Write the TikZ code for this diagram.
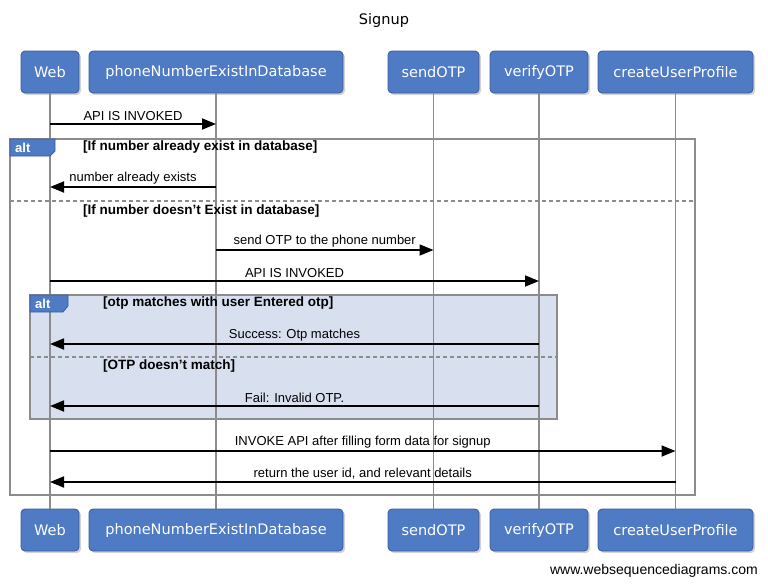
\documentclass[tikz,border=0pt]{standalone}
\usepackage{fontspec}
\setmainfont{Liberation Sans}
\newfontfamily\boxfont{DejaVu Sans}
\usetikzlibrary{arrows.meta,shadows}

\definecolor{partblue}{RGB}{79,122,196}
\definecolor{partedge}{RGB}{58,92,155}
\definecolor{altfill}{RGB}{216,224,240}
\definecolor{linegray}{RGB}{140,140,140}

\newcommand{\sq}{{\char"27}}

\begin{document}
\begin{tikzpicture}[x=1pt, y=-1pt,
    participant/.style={draw=partedge, fill=partblue, rounded corners=4pt, line width=0.8pt, minimum height=42pt, inner xsep=2pt, text=white, font=\boxfont\fontsize{14.5}{17}\selectfont, drop shadow={shadow xshift=2pt, shadow yshift=-2pt, opacity=0.35}},
    lifeline/.style={draw=linegray, line width=1.6pt},
    msg/.style={line width=1.8pt, -{Triangle[length=14pt,width=11pt]}},
    msglabel/.style={font=\fontsize{13}{15}\selectfont, above=1pt, inner sep=1pt},
    frame/.style={draw=linegray, line width=1.6pt},
    divider/.style={draw=linegray, line width=1.2pt, dash pattern=on 4pt off 3pt},
    guard/.style={font=\bfseries\fontsize{13.5}{16}\selectfont, anchor=west, inner sep=0pt},
    alttag/.style={fill=partblue, draw=partedge, line width=0.8pt},
    tagtext/.style={font=\bfseries\fontsize{13}{15}\selectfont, text=white, anchor=west, inner sep=0pt}
]
    \useasboundingbox (0,0) rectangle (768,587);

    % title
    \node[font=\boxfont\fontsize{14.5}{17}\selectfont] (title) at (384,20) {Signup};

    % inner alt fill (behind lifelines)
    \fill[altfill] (30,295) rectangle (557,419);

    % participants, top row
    \node[participant, minimum width=58pt]  (webtop)    at (50,72)    {Web};
    \node[participant, minimum width=254pt] (phonetop)  at (216,72)   {phoneNumberExistInDatabase};
    \node[participant, minimum width=91pt]  (sendtop)   at (433.5,72) {sendOTP};
    \node[participant, minimum width=98pt]  (verifytop) at (539,72)   {verifyOTP};
    \node[participant, minimum width=155pt] (createtop) at (675.5,72) {createUserProfile};

    % participants, bottom row
    \node[participant, minimum width=58pt]  (webbot)    at (50,530)    {Web};
    \node[participant, minimum width=254pt] (phonebot)  at (216,530)   {phoneNumberExistInDatabase};
    \node[participant, minimum width=91pt]  (sendbot)   at (433.5,530) {sendOTP};
    \node[participant, minimum width=98pt]  (verifybot) at (539,530)   {verifyOTP};
    \node[participant, minimum width=155pt] (createbot) at (675.5,530) {createUserProfile};

    % lifelines
    \foreach \p in {web,phone,send,verify,create}
        \draw[lifeline] (\p top.south) -- (\p bot.north);

    % outer alt frame
    \draw[frame] (10,139) rectangle (695,495);
    \draw[alttag] (10,139) -- (55,139) -- (55,151) -- (50,156) -- (10,156) -- cycle;
    \node[tagtext] (outertag) at (15,147.5) {alt};
    \node[guard] (guardone) at (83,147.5) {[If number already exist in database]};
    \draw[divider] (10,201) -- (695,201);
    \node[guard] (guardtwo) at (83,211.5) {[If number doesn\sq t Exist in database]};

    % inner alt frame
    \draw[frame] (30,295) rectangle (557,419);
    \draw[alttag] (30,295) -- (68,295) -- (68,306) -- (63,312) -- (30,312) -- cycle;
    \node[tagtext] (innertag) at (35,303.5) {alt};
    \node[guard] (guardthree) at (103,303.5) {[otp matches with user Entered otp]};
    \draw[divider] (30,357) -- (557,357);
    \node[guard] (guardfour) at (103,366.5) {[OTP doesn\sq t match]};

    % messages
    \draw[msg] (webtop |- 0,124) -- node[msglabel] {API IS INVOKED} (phonetop |- 0,124);
    \draw[msg] (phonetop |- 0,187) -- node[msglabel] {number already exists} (webtop |- 0,187);
    \draw[msg] (phonetop |- 0,250) -- node[msglabel] {send OTP to the phone number} (sendtop |- 0,250);
    \draw[msg] (webtop |- 0,281) -- node[msglabel] {API IS INVOKED} (verifytop |- 0,281);
    \draw[msg] (verifytop |- 0,344) -- node[msglabel] {Success: Otp matches} (webtop |- 0,344);
    \draw[msg] (verifytop |- 0,406) -- node[msglabel] {Fail: Invalid OTP.} (webtop |- 0,406);
    \draw[msg] (webtop |- 0,451) -- node[msglabel] {INVOKE API after filling form data for signup} (createtop |- 0,451);
    \draw[msg] (createtop |- 0,482) -- node[msglabel] {return the user id, and relevant details} (webtop |- 0,482);

    % footer
    \node[anchor=east, font=\fontsize{14}{16}\selectfont, inner sep=0pt] (footer) at (758,571) {www.websequencediagrams.com};
\end{tikzpicture}
\end{document}
